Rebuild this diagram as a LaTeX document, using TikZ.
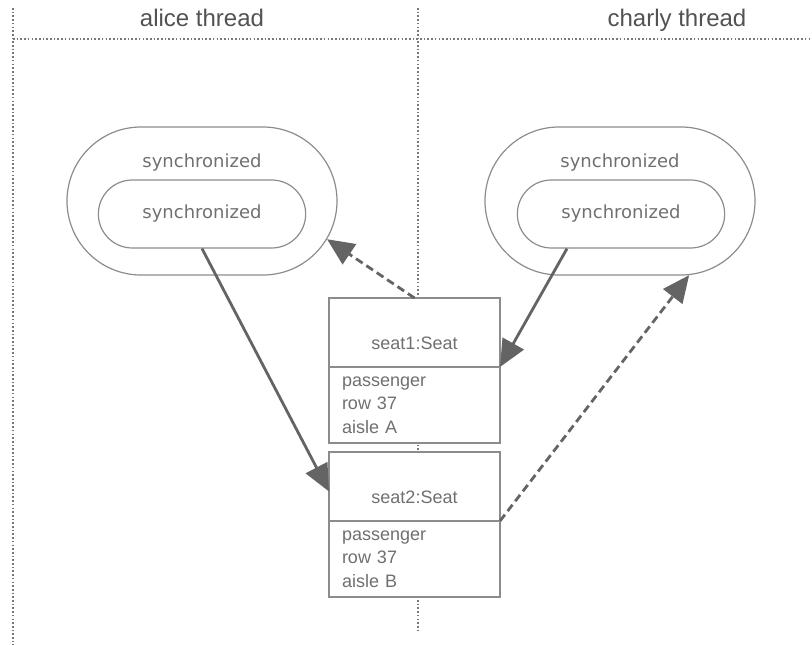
\documentclass[tikz,border=0pt]{standalone}
\usepackage{fontspec}
\setmainfont{Liberation Sans}
\newfontfamily\syncfont{DejaVu Sans}
\usetikzlibrary{arrows.meta,positioning,shapes.misc}
\definecolor{umltext}{RGB}{112,112,112}
\definecolor{umlline}{RGB}{140,140,140}
\definecolor{umlarrow}{RGB}{100,100,100}
\definecolor{umllane}{RGB}{120,120,120}

\begin{document}
\begin{tikzpicture}[x=1pt, y=-1pt,
  lane/.style={draw=umllane, line width=1.8pt, dash pattern=on 1.6pt off 2.1pt},
  lanetitle/.style={anchor=base, text=black!68, font=\fontsize{24}{28}\selectfont},
  syncout/.style={rounded rectangle, draw=umlline, line width=1.2pt, minimum width=270pt, minimum height=148pt, inner sep=0pt},
  syncin/.style={rounded rectangle, draw=umlline, line width=1.2pt, minimum width=214pt, minimum height=68pt, text=umltext, font=\syncfont\fontsize{18}{22}\selectfont},
  synclbl/.style={text=umltext, font=\syncfont\fontsize{18}{22}\selectfont},
  seathead/.style={draw=umlline, line width=1.4pt, fill=white, minimum width=171pt, minimum height=69pt, outer sep=0pt, text=umltext, font=\fontsize{18}{22}\selectfont, text height=33pt, text depth=0pt},
  seatattr/.style={draw=umlline, line width=1.4pt, fill=white, text width=145pt, inner xsep=13pt, align=left, minimum height=76pt, outer sep=0pt, text=umltext, font=\fontsize{18}{23.5}\selectfont},
  call/.style={draw=umlarrow, line width=2.8pt, -{Triangle[length=27pt,width=24pt]}},
  callback/.style={call, dash pattern=on 8pt off 4.5pt},
  node distance=0pt]
\useasboundingbox (0,0) rectangle (812,645);
% swim lanes
\draw[lane] (13,8) -- (13,645);
\draw[lane] (418,8) -- (418,632);
\draw[lane] (13,39) -- (812,39);
\node[lanetitle] (alicetitle) at (202,26) {alice thread};
\node[lanetitle] (charlytitle) at (677,27) {charly thread};
% synchronized blocks
\node[syncout] (aliceout) at (202,201) {};
\node[synclbl] (aliceoutlbl) at (202,163) {synchronized};
\node[syncin] (aliceinner) at (202,214) {synchronized};
\node[syncout] (charlyout) at (620,201) {};
\node[synclbl] (charlyoutlbl) at (620,163) {synchronized};
\node[syncin] (charlyinner) at (621,214) {synchronized};
% seat objects
\node[seathead] (seat1) at (414.5,332.5) {seat1:Seat};
\node[seatattr, below=of seat1] (seat1attr) {passenger\\row 37\\aisle A};
\node[seathead, below=9pt of seat1attr] (seat2) {seat2:Seat};
\node[seatattr, below=of seat2] (seat2attr) {passenger\\row 37\\aisle B};
% calls
\draw[call] (aliceinner.south) -- ([yshift=-5pt]seat2.west);
\draw[call] ([xshift=-54pt]charlyinner.south) -- (seat1attr.north east);
\draw[callback] (seat1.north) -- (aliceout.-17);
\draw[callback] (seat2attr.north east) -- (charlyout.-47);
\end{tikzpicture}
\end{document}
